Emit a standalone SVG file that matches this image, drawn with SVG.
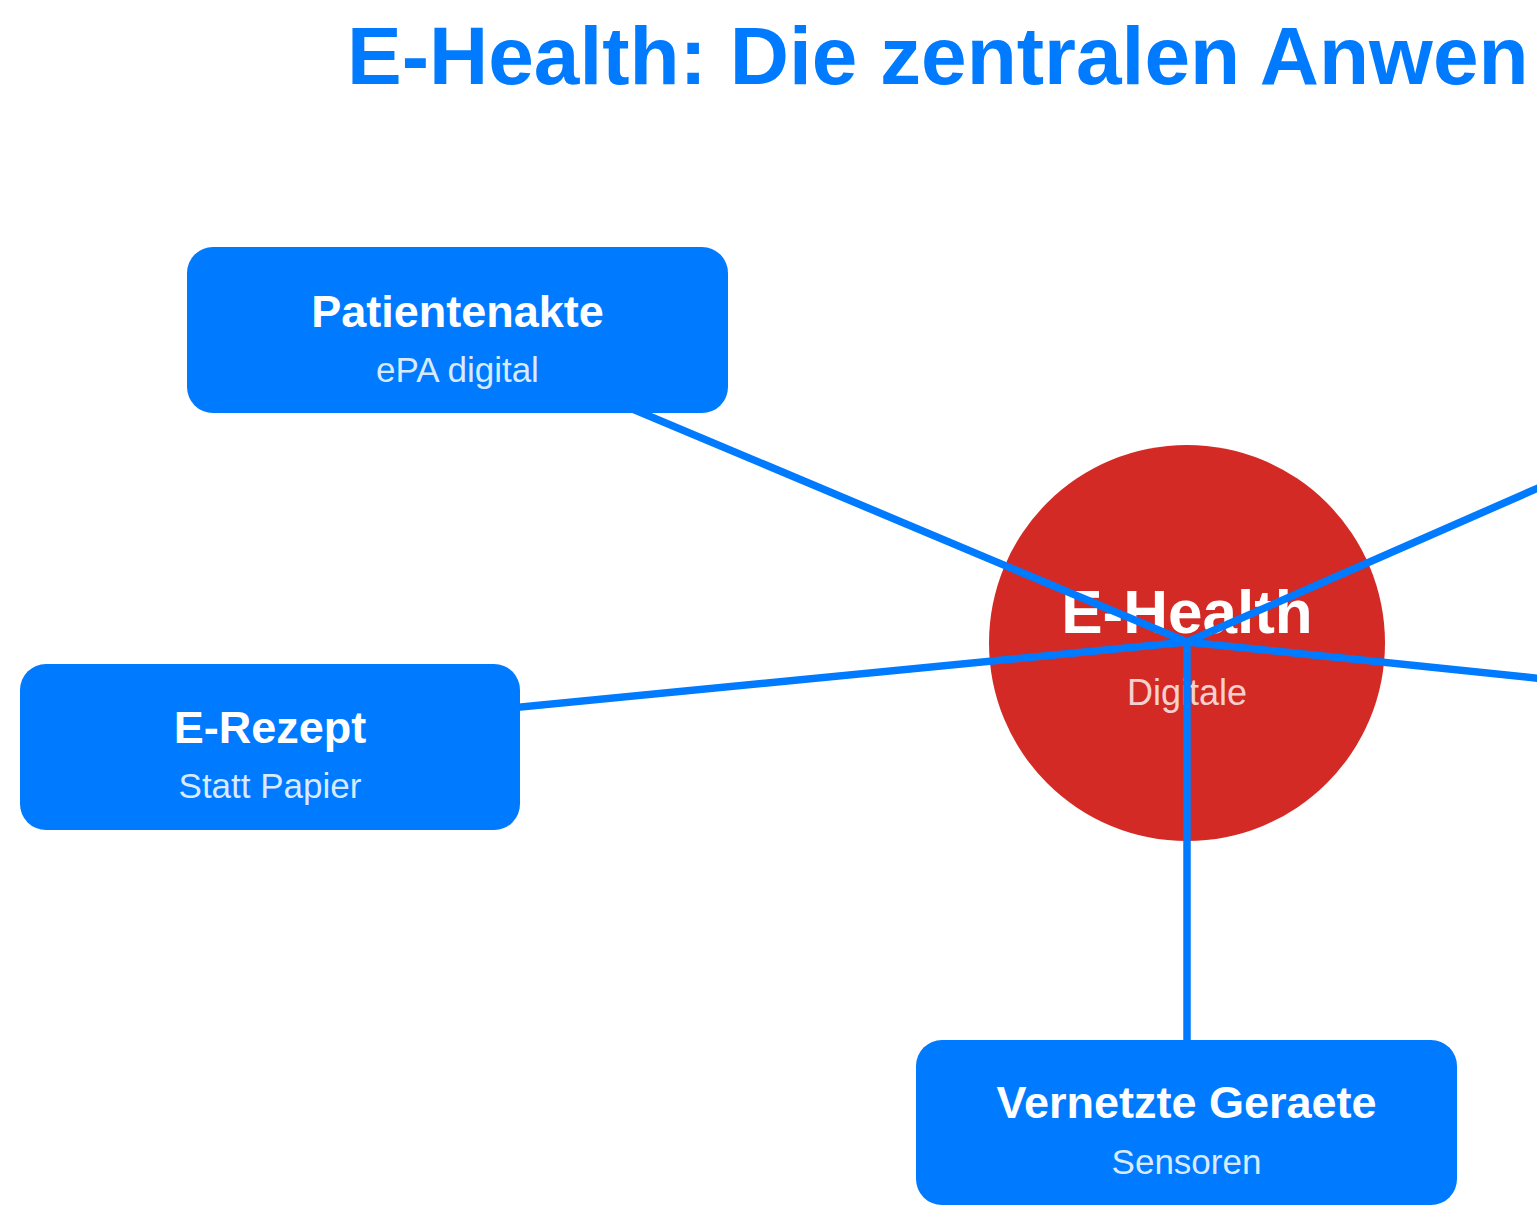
<svg xmlns="http://www.w3.org/2000/svg" width="1537" height="1226" viewBox="0 0 1537 1226">
  <style>
    text { font-family: "Liberation Sans", Arial, sans-serif; text-anchor: middle; }
    .title { font-size: 82px; font-weight: bold; fill: #007BFF; text-anchor: start; }
    .box { fill: #007BFF; }
    .h { font-size: 45px; font-weight: bold; fill: #FFFFFF; }
    .sub { font-size: 35px; fill: #FFFFFF; fill-opacity: 0.85; }
    .conn { stroke: #007BFF; stroke-width: 7.5; fill: none; }
  </style>
  <rect width="1537" height="1226" fill="#FFFFFF"/>
  <text class="title" x="347" y="84">E-Health: Die zentralen Anwen</text>

  <g id="node-center">
    <circle cx="1187" cy="643" r="198" fill="#D42A26"/>
    <text x="1187" y="633" style="font-size:62px;font-weight:bold;fill:#FFFFFF">E-Health</text>
    <text x="1187" y="705" style="font-size:36px;fill:#FFFFFF;fill-opacity:0.8">Digitale</text>
  </g>

  <g id="connectors">
    <line class="conn" x1="1187" y1="642" x2="611" y2="400"/>
    <line class="conn" x1="1187" y1="642" x2="500" y2="709"/>
    <line class="conn" x1="1187" y1="642" x2="1187" y2="1050"/>
    <line class="conn" x1="1187" y1="642" x2="1545" y2="485"/>
    <line class="conn" x1="1187" y1="642" x2="1545" y2="679"/>
  </g>

  <g id="node-patientenakte">
    <rect class="box" x="187" y="247" width="541" height="166" rx="26"/>
    <text class="h" x="457.5" y="327">Patientenakte</text>
    <text class="sub" x="457.5" y="382">ePA digital</text>
  </g>

  <g id="node-erezept">
    <rect class="box" x="20" y="664" width="500" height="166" rx="26"/>
    <text class="h" x="270" y="743">E-Rezept</text>
    <text class="sub" x="270" y="798">Statt Papier</text>
  </g>

  <g id="node-geraete">
    <rect class="box" x="916" y="1040" width="541" height="165" rx="26"/>
    <text class="h" x="1186.5" y="1118">Vernetzte Geraete</text>
    <text class="sub" x="1186.5" y="1174">Sensoren</text>
  </g>
</svg>
